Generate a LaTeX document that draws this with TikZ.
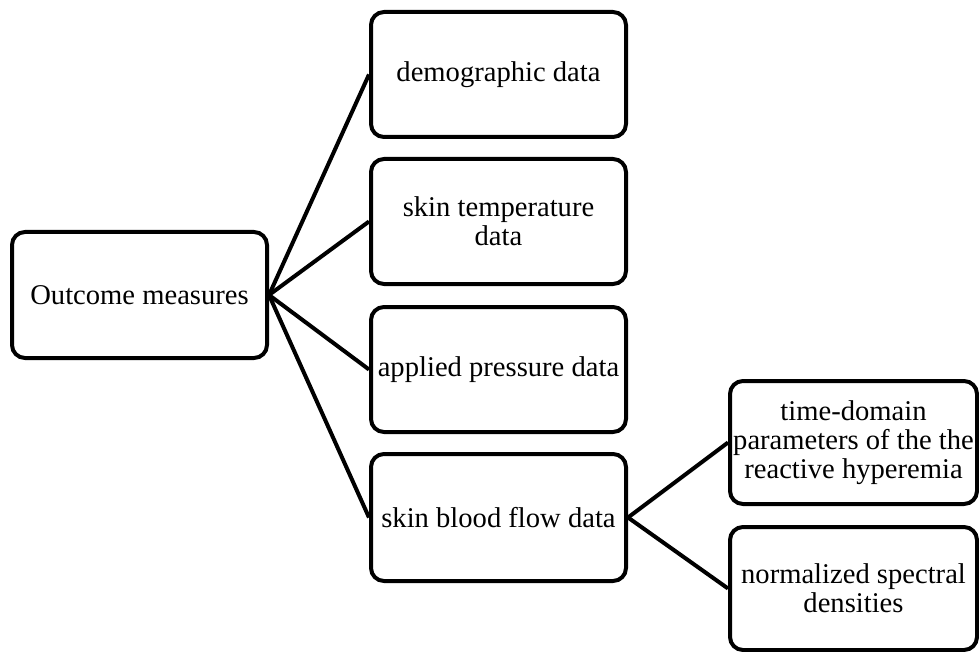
\documentclass[tikz,border=0pt]{standalone}
\usepackage{fontspec}
\setmainfont{Liberation Serif}
\usepackage{tikz}
\tikzset{mesure/.style={draw,line width=2pt,rounded corners=6.5pt,align=center,minimum width=127.5pt,minimum height=62.5pt,inner sep=1pt,fill=white,font=\fontsize{14.3}{14.6}\selectfont},branche/.style={line width=2pt}}

\begin{document}
\begin{tikzpicture}[x=0.5pt,y=-0.5pt]
\useasboundingbox (0,0) rectangle (979,652);
\node[mesure,minimum height=63pt] (outcome) at (139.5,295) {Outcome measures};
\node[mesure] (demo) at (498.5,74.5) {demographic data};
\node[mesure] (temp) at (498.5,221.5) {skin temperature\\data};
\node[mesure] (pressure) at (498.5,369.5) {applied pressure data};
\node[mesure,minimum height=63.5pt] (flow) at (498.5,517.5) {skin blood flow data};
\node[mesure,minimum width=123.5pt,minimum height=61.5pt] (timedom) at (853.5,442.5) {time-domain\\parameters of the the\\reactive hyperemia};
\node[mesure,minimum width=123.5pt,minimum height=61.5pt] (spectral) at (853.5,588.5) {normalized spectral\\densities};
\draw[branche] (outcome.east)--(demo.west);
\draw[branche] (outcome.east)--(temp.west);
\draw[branche] (outcome.east)--(pressure.west);
\draw[branche] (outcome.east)--(flow.west);
\draw[branche] (flow.east)--(timedom.west);
\draw[branche] (flow.east)--(spectral.west);
\end{tikzpicture}
\end{document}
